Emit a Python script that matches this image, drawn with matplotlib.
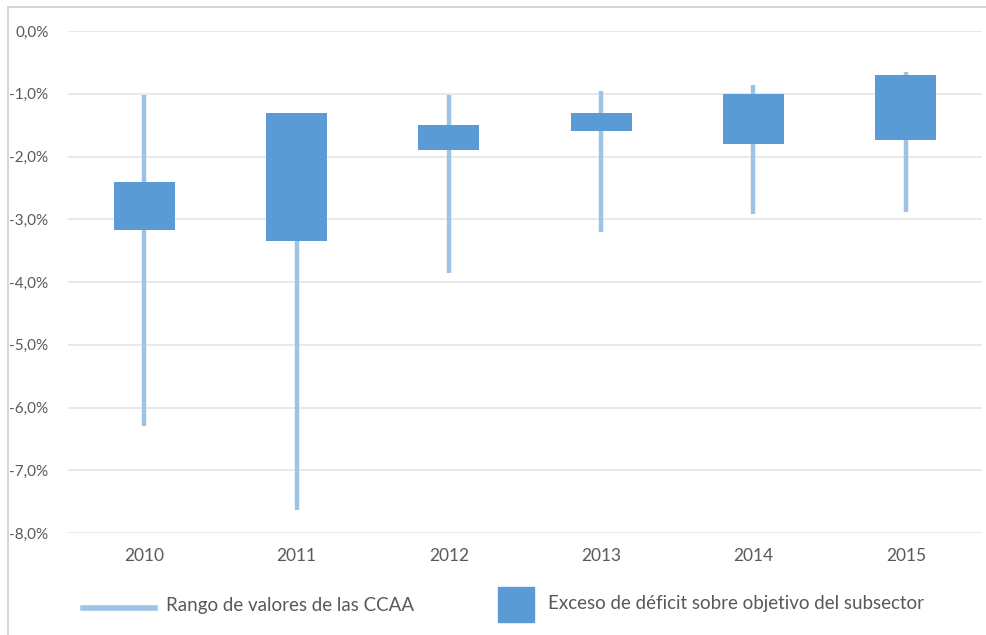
import matplotlib.pyplot as plt
from matplotlib.lines import Line2D
from matplotlib.patches import Rectangle
from matplotlib.ticker import FuncFormatter

# Data (% of GDP)
years = ["2010", "2011", "2012", "2013", "2014", "2015"]
range_high = [-1.02, -1.31, -1.02, -0.96, -0.86, -0.66]
range_low = [-6.29, -7.64, -3.85, -3.20, -2.91, -2.89]
box_top = [-2.40, -1.31, -1.50, -1.31, -1.00, -0.70]
box_bottom = [-3.17, -3.35, -1.89, -1.59, -1.80, -1.74]

line_color = "#9DC3E6"
box_color = "#5B9BD5"
text_color = "#595959"

plt.rcParams["font.family"] = ["Lato", "DejaVu Sans"]

fig = plt.figure(figsize=(9.86, 6.35), dpi=100)
W, H = 986, 635
ax = fig.add_axes([68 / W, 1 - 533 / H, (982 - 68) / W, (533 - 31) / H])

x = list(range(len(years)))
ax.vlines(x, range_low, range_high, colors=line_color, linewidth=3.2, zorder=2)
heights = [t - b for t, b in zip(box_top, box_bottom)]
ax.bar(x, heights, bottom=box_bottom, width=0.4, color=box_color, zorder=3)

ax.set_xlim(-0.5, len(years) - 0.5)
ax.set_ylim(-8, 0)
ax.set_yticks([-8, -7, -6, -5, -4, -3, -2, -1, 0])
ax.yaxis.set_major_formatter(FuncFormatter(lambda v, p: f"{v:.1f}%".replace(".", ",")))
ax.set_xticks(x)
ax.set_xticklabels(years)
ax.grid(axis="y", color="#E5E5E5", linewidth=1.2, zorder=0)
ax.set_axisbelow(True)
for s in ax.spines.values():
    s.set_visible(False)
ax.tick_params(axis="both", length=0, colors=text_color)
ax.tick_params(axis="y", pad=14, labelsize=11)
ax.tick_params(axis="x", pad=11, labelsize=12.5)

# Legend drawn by hand in pixel positions
def px(xp, yp):
    return xp / W, 1 - yp / H

fig.add_artist(Line2D([83 / W, 155 / W], [1 - 608 / H, 1 - 608 / H],
                      color=line_color, linewidth=4, transform=fig.transFigure))
fig.text(*px(166, 606), "Rango de valores de las CCAA", color=text_color,
         fontsize=13.5, va="center", ha="left")
fig.add_artist(Rectangle(px(498, 622), 36 / W, 35 / H, color=box_color,
                         transform=fig.transFigure))
fig.text(*px(548, 604), "Exceso de déficit sobre objetivo del subsector",
         color=text_color, fontsize=13.5, va="center", ha="left")

# Outer frame
fig.add_artist(Line2D([8 / W, 8 / W], [0, 1 - 7 / H], color="#D0D0D0",
                      linewidth=1.2, transform=fig.transFigure))
fig.add_artist(Line2D([8 / W, 1], [1 - 7 / H, 1 - 7 / H], color="#D0D0D0",
                      linewidth=1.2, transform=fig.transFigure))

fig.savefig("out.png", dpi=100)
